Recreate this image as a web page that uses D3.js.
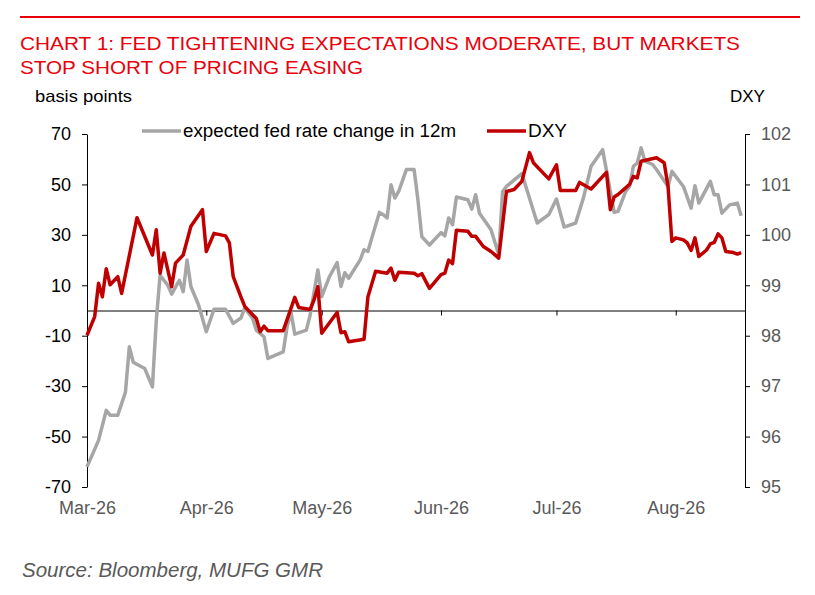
<!DOCTYPE html>
<html>
<head>
<meta charset="utf-8">
<script src="https://cdn.jsdelivr.net/npm/d3@7"></script>
<style>
  body { margin: 0; background: #fff; }
  text { font-family: Arial, "Liberation Sans", sans-serif; }
</style>
</head>
<body>
<div id="chart"></div>
<script>
// expected fed rate change in 12m (bp), left axis
const fedDates = [
  "2026-03-01","2026-03-04","2026-03-06","2026-03-07","2026-03-09","2026-03-11","2026-03-12","2026-03-13",
  "2026-03-16","2026-03-18","2026-03-19","2026-03-20","2026-03-22","2026-03-23","2026-03-25","2026-03-26",
  "2026-03-27","2026-03-28","2026-03-30","2026-04-01","2026-04-03","2026-04-06","2026-04-08","2026-04-10",
  "2026-04-11","2026-04-13","2026-04-14","2026-04-16","2026-04-17","2026-04-21","2026-04-22","2026-04-23",
  "2026-04-24","2026-04-27","2026-04-28","2026-04-30","2026-05-01","2026-05-03","2026-05-05","2026-05-06",
  "2026-05-07","2026-05-08","2026-05-11","2026-05-12","2026-05-13","2026-05-14","2026-05-16","2026-05-17",
  "2026-05-18","2026-05-19","2026-05-20","2026-05-21","2026-05-23","2026-05-25","2026-05-26","2026-05-27",
  "2026-05-29","2026-06-01","2026-06-02","2026-06-03","2026-06-04","2026-06-05","2026-06-08","2026-06-09",
  "2026-06-10","2026-06-11","2026-06-14","2026-06-16","2026-06-17","2026-06-18","2026-06-22","2026-06-26",
  "2026-06-29","2026-07-01","2026-07-03","2026-07-06","2026-07-08","2026-07-10","2026-07-13","2026-07-16",
  "2026-07-17","2026-07-19","2026-07-20","2026-07-21","2026-07-22","2026-07-23","2026-07-24","2026-07-26",
  "2026-07-27","2026-07-30","2026-07-31","2026-08-03","2026-08-05","2026-08-06","2026-08-07","2026-08-10",
  "2026-08-11","2026-08-12","2026-08-13","2026-08-15","2026-08-17","2026-08-18"
];
const fedValues = [
  -62, -51.5, -39.6, -41.5, -41.5, -32.3, -14.4, -20.5,
  -23, -30.3, -4, 14, 10, 6.5, 12, 7.5,
  20, 9.5, 2.2, -8.4, 0.5, 0.5, -5.1, -3,
  1, -3, -7.8, -10.4, -19, -16.4, -6.4, -0.5,
  -9.4, -7.8, -1.8, 16.1, 5.5, 13.4, 19, 9.5,
  15, 12.8, 20.1, 24.1, 23.4, 28.7, 38.9, 38,
  36.7, 49.9, 44.6, 47.2, 55.9, 55.9, 43.9, 29.3,
  26, 30.9, 29.6, 36.7, 34, 45, 43.9, 40.2,
  45.9, 38.6, 32, 22.1, 47.2, 49.2, 54.3, 34.7,
  38, 44.2, 33.1, 34.7, 44.6, 57.2, 63.8, 38.9,
  39.3, 47.2, 49.2, 57.2, 58.5, 64.5, 59.2, 57.9,
  55.9, 49.2, 55.2, 49.2, 40.6, 49.5, 42.6, 51.2,
  45.9, 45.9, 38.6, 41.9, 42.6, 37.6
];

// DXY index, right axis
const dxyDates = [
  "2026-03-01","2026-03-03","2026-03-04","2026-03-05","2026-03-06","2026-03-07","2026-03-09","2026-03-10",
  "2026-03-14","2026-03-18","2026-03-19","2026-03-20","2026-03-21","2026-03-23","2026-03-24","2026-03-26",
  "2026-03-28","2026-03-31","2026-04-01","2026-04-03","2026-04-06","2026-04-07","2026-04-08","2026-04-10",
  "2026-04-11","2026-04-14","2026-04-15","2026-04-16","2026-04-17","2026-04-21","2026-04-24","2026-04-25",
  "2026-04-28","2026-04-29","2026-04-30","2026-05-01","2026-05-05","2026-05-06","2026-05-07","2026-05-08",
  "2026-05-12","2026-05-13","2026-05-15","2026-05-18","2026-05-19","2026-05-20","2026-05-21","2026-05-25",
  "2026-05-26","2026-05-27","2026-05-29","2026-06-01","2026-06-02","2026-06-03","2026-06-04","2026-06-05",
  "2026-06-08","2026-06-09","2026-06-10","2026-06-12","2026-06-14","2026-06-16","2026-06-18","2026-06-20",
  "2026-06-22","2026-06-24","2026-06-25","2026-06-29","2026-07-01","2026-07-02","2026-07-06","2026-07-07",
  "2026-07-10","2026-07-14","2026-07-15","2026-07-16","2026-07-17","2026-07-20","2026-07-21","2026-07-22",
  "2026-07-23","2026-07-27","2026-07-29","2026-07-30","2026-07-31","2026-08-01","2026-08-03","2026-08-04",
  "2026-08-05","2026-08-06","2026-08-07","2026-08-09","2026-08-10","2026-08-11","2026-08-12","2026-08-13",
  "2026-08-14","2026-08-16","2026-08-17","2026-08-18"
];
const dxyValues = [
  98.01, 98.38, 99.04, 98.77, 99.33, 99.01, 99.17, 98.84,
  100.34, 99.60, 100.10, 99.24, 99.64, 98.97, 99.44, 99.60,
  100.17, 100.50, 99.67, 100.03, 99.98, 99.84, 99.17, 98.77,
  98.58, 98.34, 98.08, 98.19, 98.10, 98.10, 98.76, 98.56,
  98.52, 98.71, 98.97, 98.05, 98.46, 98.06, 98.08, 97.88,
  97.93, 98.77, 99.28, 99.24, 99.34, 99.10, 99.26, 99.24,
  99.19, 99.23, 98.94, 99.21, 99.24, 99.50, 99.43, 100.09,
  100.07, 99.97, 99.97, 99.77, 99.67, 99.54, 100.86, 100.90,
  101.06, 101.63, 101.43, 101.11, 101.39, 100.88, 100.88, 101.04,
  100.91, 101.24, 100.50, 100.75, 100.80, 101.00, 101.16, 101.13,
  101.46, 101.53, 101.43, 100.96, 99.87, 99.94, 99.90, 99.84,
  99.69, 99.94, 99.57, 99.70, 99.82, 99.85, 100.02, 99.94,
  99.67, 99.65, 99.62, 99.65
];

const leftTicks = [-70, -50, -30, -10, 10, 30, 50, 70];
const rightTicks = [95, 96, 97, 98, 99, 100, 101, 102];
const monthTicks = ["2026-03-01","2026-04-01","2026-05-01","2026-06-01","2026-07-01","2026-08-01"];
const xDomain = ["2026-03-01", "2026-08-19"];

const titleLines = [
  "CHART 1: FED TIGHTENING EXPECTATIONS MODERATE, BUT MARKETS",
  "STOP SHORT OF PRICING EASING"
];
const seriesNames = ["expected fed rate change in 12m", "DXY"];

const W = 815, H = 595;
const plot = { left: 87, right: 745, top: 134, bottom: 487 };
const GREY = "#a6a6a6", RED = "#c00000", TITLERED = "#e8000b", TEXTGREY = "#595959";

const parse = d3.timeParse("%Y-%m-%d");
const plain = d => String(d);   // hyphen minus like the original, no decimals

const svg = d3.select("#chart").append("svg")
  .attr("width", W).attr("height", H);

// header
svg.append("line")
  .attr("x1", 20).attr("x2", 800).attr("y1", 17).attr("y2", 17)
  .attr("stroke", TITLERED).attr("stroke-width", 2);

const titleWidths = [720, 343];
svg.append("g").selectAll("text")
  .data(titleLines)
  .join("text")
  .attr("x", 20)
  .attr("y", (d, i) => 50 + i * 24)
  .attr("fill", TITLERED)
  .attr("textLength", (d, i) => titleWidths[i])
  .attr("lengthAdjust", "spacingAndGlyphs")
  .style("font-size", "19px")
  .text(d => d);

svg.append("text").attr("x", 35).attr("y", 102)
  .attr("textLength", 97).attr("lengthAdjust", "spacingAndGlyphs")
  .style("font-size", "17px").text("basis points");
svg.append("text").attr("x", 730).attr("y", 102)
  .style("font-size", "17px").text("DXY");

// scales
const x = d3.scaleTime()
  .domain(xDomain.map(parse))
  .range([plot.left, plot.right]);
const yLeft = d3.scaleLinear().domain([-70, 70]).range([plot.bottom, plot.top]);
const yRight = d3.scaleLinear().domain([95, 102]).range([plot.bottom, plot.top]);

// axes
const leftAxis = svg.append("g")
  .attr("transform", `translate(${plot.left},0)`)
  .call(d3.axisLeft(yLeft).tickValues(leftTicks).tickFormat(plain)
    .tickSize(5).tickSizeOuter(0).tickPadding(11));
leftAxis.selectAll("text").style("font-size", "18px").attr("fill", "#000");

const rightAxis = svg.append("g")
  .attr("transform", `translate(${plot.right},0)`)
  .call(d3.axisRight(yRight).tickValues(rightTicks).tickFormat(plain)
    .tickSize(5).tickSizeOuter(0).tickPadding(11));
rightAxis.selectAll("text").style("font-size", "18px").attr("fill", TEXTGREY);

svg.append("g")
  .attr("transform", `translate(0,${yLeft(0)})`)
  .call(d3.axisBottom(x).tickValues(monthTicks.map(parse)).tickSize(5).tickSizeOuter(0).tickFormat(""));

const monthLabels = svg.append("g")
  .attr("transform", `translate(0,${plot.bottom})`)
  .call(d3.axisBottom(x).tickValues(monthTicks.map(parse)).tickSize(0).tickPadding(14)
    .tickFormat(d3.timeFormat("%b-%y")));
monthLabels.select(".domain").remove();
monthLabels.selectAll("text").style("font-size", "18px").attr("fill", TEXTGREY);

svg.selectAll(".domain, .tick line").attr("stroke", "#000");

// lines
const fedData = fedDates.map((d, i) => ({ date: parse(d), value: fedValues[i] }));
const dxyData = dxyDates.map((d, i) => ({ date: parse(d), value: dxyValues[i] }));

svg.append("path")
  .datum(fedData)
  .attr("fill", "none")
  .attr("stroke", GREY)
  .attr("stroke-width", 3.5)
  .attr("stroke-linejoin", "round")
  .attr("d", d3.line().x(d => x(d.date)).y(d => yLeft(d.value)));

svg.append("path")
  .datum(dxyData)
  .attr("fill", "none")
  .attr("stroke", RED)
  .attr("stroke-width", 3.5)
  .attr("stroke-linejoin", "round")
  .attr("d", d3.line().x(d => x(d.date)).y(d => yRight(d.value)));

// legend
const legend = svg.append("g").attr("transform", "translate(0,131)");
const legendItems = [
  { name: seriesNames[0], color: GREY, x0: 142, w: 273 },
  { name: seriesNames[1], color: RED, x0: 487, w: 39 }
];
legendItems.forEach(item => {
  legend.append("line")
    .attr("x1", item.x0).attr("x2", item.x0 + 39)
    .attr("stroke", item.color).attr("stroke-width", 3.5);
  legend.append("text")
    .attr("x", item.x0 + 41).attr("dy", "0.35em")
    .attr("textLength", item.w).attr("lengthAdjust", "spacingAndGlyphs")
    .style("font-size", "18px")
    .text(item.name);
});

// source
svg.append("text")
  .attr("x", 22).attr("y", 577)
  .attr("fill", TEXTGREY)
  .attr("textLength", 301).attr("lengthAdjust", "spacingAndGlyphs")
  .style("font-size", "20px")
  .style("font-style", "italic")
  .text("Source: Bloomberg, MUFG GMR");
</script>
</body>
</html>
